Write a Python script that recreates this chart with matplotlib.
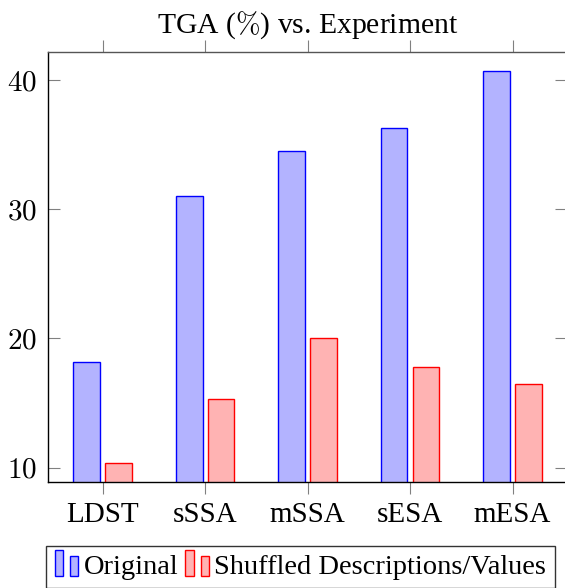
import matplotlib
matplotlib.use("Agg")
import matplotlib.pyplot as plt
import numpy as np
from matplotlib.legend_handler import HandlerBase
from matplotlib.patches import Rectangle

categories = ["LDST", "sSSA", "mSSA", "sESA", "mESA"]
original = [18.2, 31.0, 34.5, 36.3, 40.7]
shuffled = [10.4, 15.3, 20.0, 17.8, 16.5]
yticks = [10, 20, 30, 40]
series_names = ["Original", "Shuffled Descriptions/Values"]

plt.rcParams['font.family'] = ['Liberation Serif', 'DejaVu Serif']
plt.rcParams['mathtext.fontset'] = 'cm'
FS = 21

blue_fill = (0.7, 0.7, 1.0)
red_fill = (1.0, 0.7, 0.7)
blue_edge = (0, 0, 1)
red_edge = (1, 0, 0)

fig = plt.figure(figsize=(5.65, 5.88), dpi=100)
ax = fig.add_axes([48.3/565, 105.7/588, (567-48.3)/565, 430.6/588])

x = np.arange(len(categories))
w = 0.26
off = 0.156
ax.bar(x - off, original, width=w, bottom=0, color=blue_fill, edgecolor=blue_edge, linewidth=1.0, zorder=2)
ax.bar(x + off, shuffled, width=w, bottom=0, color=red_fill, edgecolor=red_edge, linewidth=1.0, zorder=2)

ax.set_xlim(-0.531, 4.531)
ax.set_ylim(8.87, 42.19)
ax.set_xticks(x)
ax.set_xticklabels(categories, fontsize=FS)
ax.set_yticks(yticks)
ax.set_yticklabels(["$%d$" % v for v in yticks], fontsize=FS)

ax.tick_params(axis='x', direction='out', length=8.5, width=0.8, color='#808080',
               top=True, bottom=True, pad=6)
ax.tick_params(axis='y', direction='in', length=8.5, width=0.8, color='#808080',
               left=True, right=True, pad=8)

ax.spines['left'].set_color('black')
ax.spines['bottom'].set_color('black')
ax.spines['top'].set_color('#555555')
ax.spines['right'].set_color('#555555')
for s in ax.spines.values():
    s.set_linewidth(1.0)

ax.set_title(r"TGA ($\%$) vs. Experiment", fontsize=FS + 0.3, pad=14)


class TwoRectHandler(HandlerBase):
    def __init__(self, fill, edge):
        super().__init__()
        self.fill = fill
        self.edge = edge

    def create_artists(self, legend, orig_handle, xdescent, ydescent, width, height, fontsize, trans):
        r1 = Rectangle((-xdescent, -ydescent - 0.2*height), width*0.36, height*1.45,
                       facecolor=self.fill, edgecolor=self.edge, linewidth=1.0, transform=trans)
        r2 = Rectangle((-xdescent + width*0.68, -ydescent - 0.2*height), width*0.32, height*1.1,
                       facecolor=self.fill, edgecolor=self.edge, linewidth=1.0, transform=trans)
        return [r1, r2]


LFS = 20.5
h1 = Rectangle((0, 0), 1, 1)
h2 = Rectangle((0, 0), 1, 1)
leg = fig.legend([h1, h2], series_names, loc='upper left',
                 bbox_to_anchor=(46/565, 1 - 546/588), ncol=2,
                 fontsize=LFS, frameon=True, fancybox=False,
                 handler_map={h1: TwoRectHandler(blue_fill, blue_edge),
                              h2: TwoRectHandler(red_fill, red_edge)},
                 handlelength=0.82, handleheight=0.6, handletextpad=0.2,
                 columnspacing=0.25, borderpad=0.3, borderaxespad=0)
leg.get_frame().set_edgecolor('black')
leg.get_frame().set_linewidth(1.0)

fig.savefig("out.png", dpi=100)
